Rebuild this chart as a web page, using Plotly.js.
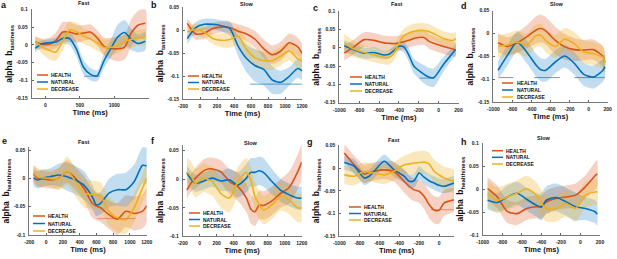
<!DOCTYPE html>
<html><head><meta charset="utf-8">
<script src="https://cdn.plot.ly/plotly-3.0.1.min.js"></script>
<style>html,body{margin:0;padding:0;background:#fff}#chart{width:617px;height:259px}</style>
</head><body><div id="chart"></div>
<script>
// ---------- series ----------
const seriesNames = ['HEALTH','NATURAL','DECREASE'];

// panel a (Fast, tastiness)
const a_x   = [-150,-50,50,150,250,350,450,550,650,750,850,950,1050,1150,1250,1350,1450];
const a_H   = [0.009,0.002,0.002,0.012,0.036,0.036,0.031,0.033,0.036,0.02,-0.004,-0.01,-0.011,-0.006,0.035,0.056,0.061];
const a_Hse = [0.015,0.015,0.018,0.022,0.028,0.028,0.025,0.022,0.022,0.022,0.025,0.03,0.035,0.035,0.038,0.04,0.04];
const a_N   = [-0.01,0.003,0.006,0.008,0.018,0.018,-0.012,-0.062,-0.082,-0.087,-0.045,-0.01,0.022,0.035,0.015,0.004,0.01];
const a_Nse = [0.01,0.01,0.01,0.012,0.015,0.018,0.02,0.02,0.018,0.015,0.02,0.025,0.035,0.035,0.03,0.025,0.025];
const a_D   = [0.009,-0.005,-0.015,-0.02,0.01,0.042,0.037,0.025,0.017,0.006,-0.007,-0.007,-0.002,0.01,0.016,0.02,0.021];
const a_Dse = [0.015,0.02,0.025,0.025,0.025,0.025,0.025,0.022,0.022,0.022,0.022,0.022,0.022,0.022,0.022,0.022,0.022];
const a_sig = [{series:'NATURAL', from:560, to:790, level:-0.088}];

// panel b (Slow, tastiness)
const b_x   = [-150,-50,50,150,250,350,450,550,650,750,850,950,1050,1150,1200];
const b_H   = [0.015,-0.008,-0.006,0.004,0.007,0.006,-0.002,-0.008,-0.02,-0.04,-0.053,-0.045,-0.027,-0.036,-0.05];
const b_Hse = [0.012,0.012,0.012,0.012,0.012,0.012,0.015,0.015,0.018,0.02,0.02,0.02,0.02,0.02,0.02];
const b_N   = [-0.018,0.006,0.013,0.013,0.01,0.004,-0.035,-0.062,-0.077,-0.085,-0.108,-0.113,-0.1,-0.083,-0.088];
const b_Nse = [0.012,0.012,0.012,0.012,0.012,0.015,0.022,0.03,0.035,0.035,0.03,0.025,0.02,0.02,0.02];
const b_D   = [-0.003,0.002,-0.004,-0.018,-0.022,-0.02,-0.013,-0.042,-0.06,-0.066,-0.066,-0.056,-0.045,-0.062,-0.067];
const b_Dse = [0.012,0.012,0.012,0.012,0.015,0.018,0.02,0.02,0.02,0.02,0.02,0.02,0.02,0.02,0.02];
const b_sig = [{series:'NATURAL', from:590, to:1200, level:-0.117}];

// panel c (Fast, tastiness, response-locked)
const c_x   = [-950,-850,-750,-650,-550,-500,-450,-400,-350,-300,-250,-150,-100,-50,50,150,170];
const c_H   = [-0.015,0.003,0.022,0.02,0.013,0.012,0.011,0.013,0.016,0.02,0.025,0.028,0.018,0.012,0.003,-0.004,-0.006];
const c_Hse = [0.02,0.02,0.02,0.02,0.02,0.02,0.02,0.02,0.02,0.02,0.02,0.02,0.02,0.02,0.02,0.02,0.02];
const c_N   = [0.005,-0.006,-0.015,-0.013,-0.02,-0.018,-0.008,0.004,0.002,-0.02,-0.05,-0.072,-0.08,-0.082,-0.045,-0.012,-0.005];
const c_Nse = [0.015,0.015,0.015,0.015,0.012,0.012,0.012,0.012,0.015,0.018,0.02,0.025,0.025,0.025,0.02,0.015,0.015];
const c_D   = [0.012,-0.004,-0.013,-0.02,-0.026,-0.026,-0.015,0.012,0.032,0.04,0.045,0.047,0.044,0.038,0.025,0.02,0.025];
const c_Dse = [0.025,0.022,0.02,0.02,0.02,0.02,0.02,0.02,0.02,0.02,0.02,0.02,0.02,0.02,0.02,0.02,0.02];
const c_sig = [{series:'NATURAL', from:-190, to:-57, level:-0.083}];

// panel d (Slow, tastiness, response-locked)
const d_x   = [-950,-850,-750,-650,-550,-500,-450,-350,-250,-150,-50,50,150,170];
const d_H   = [-0.02,-0.028,-0.02,-0.007,0.008,0.011,0.006,-0.015,-0.029,-0.035,-0.036,-0.035,-0.05,-0.063];
const d_Hse = [0.02,0.02,0.022,0.025,0.03,0.03,0.03,0.03,0.028,0.025,0.022,0.022,0.022,0.022];
const d_N   = [-0.08,-0.047,-0.018,-0.04,-0.069,-0.079,-0.08,-0.062,-0.049,-0.065,-0.089,-0.095,-0.08,-0.072];
const d_Nse = [0.02,0.022,0.022,0.025,0.025,0.025,0.025,0.025,0.025,0.025,0.025,0.025,0.025,0.025];
const d_D   = [-0.028,-0.025,-0.018,-0.025,-0.004,-0.004,-0.015,-0.028,-0.012,-0.022,-0.04,-0.044,-0.052,-0.064];
const d_Dse = [0.025,0.025,0.025,0.025,0.025,0.025,0.025,0.025,0.025,0.025,0.025,0.025,0.025,0.025];
const d_sig = [{series:'NATURAL', from:-937, to:-790, level:-0.096},
               {series:'NATURAL', from:-573, to:-301, level:-0.096},
               {series:'NATURAL', from:-150, to:170, level:-0.096}];

// panel e (Fast, healthiness)
const e_x   = [-150,-100,-50,50,150,250,350,450,550,600,650,750,850,950,1050,1150,1200];
const e_H   = [0.008,0.0,-0.001,-0.003,0.0,0.012,0.0,-0.017,-0.044,-0.049,-0.052,-0.064,-0.072,-0.058,-0.062,-0.058,-0.048];
const e_Hse = [0.015,0.015,0.015,0.015,0.018,0.02,0.02,0.022,0.025,0.025,0.025,0.025,0.028,0.028,0.03,0.03,0.03];
const e_N   = [0.001,-0.003,0.0,0.003,0.006,0.003,-0.003,-0.012,-0.032,-0.047,-0.044,-0.026,-0.02,-0.02,-0.006,0.023,0.022];
const e_Nse = [0.015,0.015,0.015,0.015,0.02,0.025,0.025,0.025,0.022,0.02,0.02,0.025,0.028,0.03,0.03,0.032,0.032];
const e_D   = [0.009,0.003,0.001,0.0,-0.001,0.013,-0.006,-0.026,-0.029,-0.03,-0.032,-0.058,-0.07,-0.073,-0.052,-0.017,0.0];
const e_Dse = [0.015,0.015,0.015,0.015,0.02,0.025,0.025,0.025,0.025,0.025,0.025,0.025,0.025,0.025,0.025,0.025,0.025];
const e_sig = [{series:'HEALTH', from:610, to:1063, level:-0.071}];

// panel f (Slow, healthiness)
const f_x   = [-150,-100,-50,50,100,150,250,350,450,550,600,650,700,750,850,950,1050,1150,1200];
const f_H   = [-0.019,-0.006,0.002,0.015,0.018,0.018,0.013,-0.004,-0.013,-0.033,-0.052,-0.057,-0.045,-0.046,-0.038,-0.025,-0.015,0.012,0.03];
const f_Hse = [0.015,0.015,0.018,0.02,0.02,0.02,0.02,0.022,0.025,0.025,0.025,0.025,0.025,0.025,0.025,0.025,0.028,0.03,0.03];
const f_N   = [0.011,0.0,-0.007,-0.003,0.0,0.002,-0.003,-0.001,-0.01,0.002,0.012,0.012,0.015,0.012,-0.004,-0.019,-0.027,-0.033,-0.033];
const f_Nse = [0.012,0.015,0.015,0.015,0.015,0.015,0.018,0.02,0.022,0.025,0.025,0.025,0.025,0.025,0.022,0.02,0.02,0.02,0.02];
const f_D   = [0.013,0.005,-0.007,0.003,-0.001,-0.004,-0.025,-0.033,-0.004,0.012,-0.001,-0.03,-0.045,-0.054,-0.045,-0.03,-0.036,-0.05,-0.05];
const f_Dse = [0.025,0.025,0.025,0.025,0.025,0.025,0.025,0.025,0.025,0.025,0.025,0.025,0.025,0.025,0.025,0.025,0.025,0.025,0.025];
const f_sig = [];

// panel g (Fast, healthiness, response-locked)
const g_x   = [-950,-850,-750,-700,-650,-550,-450,-350,-300,-250,-200,-150,-100,-50,0,50,150];
const g_H   = [0.033,0.007,-0.013,-0.01,-0.007,-0.004,-0.008,-0.029,-0.04,-0.048,-0.051,-0.062,-0.08,-0.092,-0.093,-0.077,-0.07];
const g_Hse = [0.02,0.02,0.02,0.02,0.02,0.02,0.022,0.025,0.025,0.025,0.025,0.028,0.03,0.03,0.03,0.028,0.025];
const g_N   = [0.012,0.004,-0.022,-0.018,-0.007,0.015,-0.004,-0.018,-0.029,-0.028,-0.011,-0.02,-0.028,-0.033,-0.038,-0.04,-0.033];
const g_Nse = [0.015,0.015,0.015,0.015,0.015,0.015,0.015,0.015,0.015,0.015,0.015,0.015,0.015,0.015,0.015,0.015,0.015];
const g_D   = [-0.015,-0.018,-0.007,-0.009,-0.011,-0.015,-0.007,0.007,0.009,0.011,0.012,0.013,0.009,-0.007,-0.015,-0.022,-0.029];
const g_Dse = [0.02,0.02,0.02,0.02,0.02,0.02,0.02,0.02,0.022,0.025,0.025,0.025,0.025,0.025,0.025,0.025,0.025];
const g_sig = [{series:'HEALTH', from:-80, to:150, level:-0.0915}];

// panel h (Slow, healthiness, response-locked)
const h_x   = [-950,-850,-750,-650,-550,-450,-400,-350,-250,-150,-50,50,150,170];
const h_H   = [0.001,-0.017,-0.048,-0.053,-0.042,-0.038,-0.039,-0.028,-0.02,-0.017,-0.013,0.005,0.029,0.033];
const h_Hse = [0.025,0.025,0.025,0.025,0.025,0.025,0.025,0.025,0.025,0.025,0.025,0.025,0.03,0.03];
const h_N   = [-0.024,-0.029,-0.017,-0.009,-0.022,-0.035,-0.038,-0.024,-0.018,-0.027,-0.038,-0.042,-0.049,-0.054];
const h_Nse = [0.02,0.02,0.025,0.025,0.025,0.025,0.03,0.03,0.03,0.03,0.03,0.025,0.025,0.025];
const h_D   = [-0.009,-0.024,-0.017,-0.009,0.001,-0.013,-0.03,-0.042,-0.042,-0.031,-0.042,-0.013,-0.006,-0.006];
const h_Dse = [0.028,0.028,0.028,0.028,0.028,0.028,0.028,0.028,0.028,0.028,0.028,0.028,0.028,0.028];
const h_sig = [];

// ---------- tick labels ----------
const xtA = [0,500,1000];                 const xlA = ['0','500','1000'];
const xtS = [-200,0,200,400,600,800,1000,1200]; const xlS = ['-200','0','200','400','600','800','1000','1200'];
const xtR = [-1000,-800,-600,-400,-200,0,200];  const xlR = ['-1000','-800','-600','-400','-200','0','200'];
const xtG = [-1000,-800,-600,-400,-200,0];      const xlG = ['-1000','-800','-600','-400','-200','0'];
const ytA = [-0.15,-0.1,-0.05,0,0.05,0.1];  const ylA = ['-0.15','-0.1','-0.05','0','0.05','0.1'];
const ytB = [-0.15,-0.1,-0.05,0,0.05];      const ylB = ['-0.15','-0.1','-0.05','0','0.05'];
const ytE = [-0.1,-0.05,0,0.05];            const ylE = ['-0.1','-0.05','0','0.05'];
const ytH = [-0.1,-0.05,0,0.05,0.1];        const ylH = ['-0.1','-0.05','0','0.05','0.1'];
const panelLetters = ['a','b','c','d','e','f','g','h'];
const panelTitles  = ['Fast','Slow','Fast','Slow','Fast','Slow','Fast','Slow'];
const yVars = ['tastiness','tastiness','tastiness','tastiness','healthiness','healthiness','healthiness','healthiness'];

// ---------- styling / layout (pixels) ----------
const W = 617, HGT = 259;
const FONT = 'Liberation Sans, Arial, sans-serif';
const lineColors = {HEALTH:'#D95319', NATURAL:'#0072BD', DECREASE:'#EDB120'};
const bandColors = {HEALTH:'rgba(217,83,25,0.26)', NATURAL:'rgba(0,114,189,0.24)', DECREASE:'rgba(237,177,32,0.3)'};
const sigColors  = {HEALTH:'rgba(217,83,25,0.5)', NATURAL:'rgba(0,114,189,0.65)', DECREASE:'rgba(237,177,32,0.6)'};

const panels = [
 {x:a_x, s:[[a_H,a_Hse],[a_N,a_Nse],[a_D,a_Dse]], sig:a_sig, box:[31.7,148.7,9.3,98.3],  xr:[-200,1500], yr:[-0.15,0.1],  xt:xtA, xl:xlA, yt:ytA, yl:ylA, tpos:[83.7,3.5], lpos:[3.5,5.5],   leg:{rows:[75,82,89],    l0:37, l1:48, tx:49}},
 {x:b_x, s:[[b_H,b_Hse],[b_N,b_Nse],[b_D,b_Dse]], sig:b_sig, box:[183,302,7.3,99.3],     xr:[-200,1200], yr:[-0.15,0.05], xt:xtS, xl:xlS, yt:ytB, yl:ylB, tpos:[246.7,3.8], lpos:[153.5,5.5], leg:{rows:[76,82.5,89], l0:188, l1:199, tx:200}},
 {x:c_x, s:[[c_H,c_Hse],[c_N,c_Nse],[c_D,c_Dse]], sig:c_sig, box:[339.3,458.5,11,102.7], xr:[-1000,200], yr:[-0.15,0.1],  xt:xtR, xl:xlR, yt:ytA, yl:ylA, tpos:[396,4], lpos:[315,7.5],   leg:{rows:[77,84,91],    l0:350, l1:362, tx:363}},
 {x:d_x, s:[[d_H,d_Hse],[d_N,d_Nse],[d_D,d_Dse]], sig:d_sig, box:[493.3,607.7,10.7,102.3],xr:[-1000,200], yr:[-0.15,0.05], xt:xtR, xl:xlR, yt:ytB, yl:ylB, tpos:[557,4], lpos:[464,6.5],     leg:{rows:[83,90,97],    l0:502, l1:513, tx:515}},
 {x:e_x, s:[[e_H,e_Hse],[e_N,e_Nse],[e_D,e_Dse]], sig:e_sig, box:[29.3,146.7,147.2,235],  xr:[-200,1200], yr:[-0.1,0.055], xt:xtS, xl:xlS, yt:ytE, yl:ylE, tpos:[83.7,142], lpos:[4,140.7], leg:{rows:[216,223.5,231], l0:33, l1:45, tx:46}},
 {x:f_x, s:[[f_H,f_Hse],[f_N,f_Nse],[f_D,f_Dse]], sig:f_sig, box:[182.7,301.7,145,236.3], xr:[-200,1200], yr:[-0.1,0.06],  xt:xtS, xl:xlS, yt:ytE, yl:ylE, tpos:[251,143], lpos:[152.7,140.7], leg:{rows:[213,219.5,226], l0:189, l1:200, tx:201}},
 {x:g_x, s:[[g_H,g_Hse],[g_N,g_Nse],[g_D,g_Dse]], sig:g_sig, box:[339.3,454,145.3,236.3], xr:[-1000,150], yr:[-0.15,0.05], xt:xtG, xl:xlG, yt:ytB, yl:ylB, tpos:[393,139.7], lpos:[310,142], leg:{rows:[207,213.5,220], l0:349, l1:361, tx:362}},
 {x:h_x, s:[[h_H,h_Hse],[h_N,h_Nse],[h_D,h_Dse]], sig:h_sig, box:[482.7,600,143,235.3],   xr:[-1000,200], yr:[-0.1,0.1],   xt:xtR, xl:xlR, yt:ytH, yl:ylH, tpos:[544,138], lpos:[464,142],   leg:{rows:[150.7,157.3,164], l0:492, l1:503, tx:504}}
];

const px = v => v / W, py = v => 1 - v / HGT;
const traces = [];
const layout = {
  width: W, height: HGT, margin:{l:0,r:0,t:0,b:0},
  paper_bgcolor:'#fff', plot_bgcolor:'rgba(0,0,0,0)', showlegend:false,
  font:{family:FONT, size:5, color:'#222'},
  annotations:[], shapes:[]
};

panels.forEach((p, i) => {
  const k = i === 0 ? '' : String(i + 1);
  const xa = 'x' + k, ya = 'y' + k;
  p.s.forEach((s, j) => {
    const nm = seriesNames[j];
    const hi = s[0].map((v, t) => v + s[1][t]);
    const lo = s[0].map((v, t) => v - s[1][t]);
    traces.push({type:'scatter', mode:'lines', xaxis:xa, yaxis:ya,
      x: p.x.concat(p.x.slice().reverse()), y: hi.concat(lo.slice().reverse()),
      fill:'toself', fillcolor:bandColors[nm], line:{width:0, shape:'spline', smoothing:0.7},
      hoverinfo:'skip', name:nm + ' SE'});
  });
  p.s.forEach((s, j) => {
    const nm = seriesNames[j];
    traces.push({type:'scatter', mode:'lines', xaxis:xa, yaxis:ya, x:p.x, y:s[0], name:nm,
      line:{color:lineColors[nm], width:1.6, shape:'spline', smoothing:0.7}});
  });
  p.sig.forEach(sg => {
    traces.push({type:'scatter', mode:'lines', xaxis:xa, yaxis:ya, x:[sg.from, sg.to], y:[sg.level, sg.level],
      line:{color:sigColors[sg.series], width:1}, hoverinfo:'skip', name:sg.series + ' sig'});
  });
  layout['xaxis' + k] = {
    domain:[px(p.box[0]), px(p.box[1])], range:p.xr, anchor:ya,
    tickvals:p.xt, ticktext:p.xl, ticks:'inside', ticklen:2, tickcolor:'#666',
    showgrid:false, zeroline:false, showline:true, linecolor:'#777', linewidth:1,
    tickfont:{size:5, weight:'bold', color:'#222'}, ticklabelstandoff:2,
    title:{text:'Time (ms)', font:{size:7.5, weight:'bold', color:'#111'}, standoff:2}
  };
  layout['yaxis' + k] = {
    domain:[py(p.box[3]), py(p.box[2])], range:p.yr, anchor:xa,
    tickvals:p.yt, ticktext:p.yl, ticks:'inside', ticklen:2, tickcolor:'#666',
    showgrid:false, zeroline:false, showline:true, linecolor:'#777', linewidth:1,
    tickfont:{size:5, weight:'bold', color:'#222'}, ticklabelstandoff:2,
    title:{text:'alpha  b<sub>' + yVars[i] + '</sub>', font:{size:8.5, weight:'bold', color:'#111'}, standoff:2}
  };
  layout.annotations.push({xref:'paper', yref:'paper', x:px(p.tpos[0]), y:py(p.tpos[1]), text:panelTitles[i],
    showarrow:false, xanchor:'center', yanchor:'middle', font:{size:5.5, weight:'bold', color:'#111'}});
  layout.annotations.push({xref:'paper', yref:'paper', x:px(p.lpos[0]), y:py(p.lpos[1]), text:panelLetters[i],
    showarrow:false, xanchor:'center', yanchor:'middle', font:{size:9, weight:'bold', color:'#111'}});
  seriesNames.forEach((nm, j) => {
    const r = p.leg.rows[j];
    layout.shapes.push({type:'line', xref:'paper', yref:'paper', x0:px(p.leg.l0), x1:px(p.leg.l1), y0:py(r), y1:py(r),
      line:{color:lineColors[nm], width:1.5}});
    layout.annotations.push({xref:'paper', yref:'paper', x:px(p.leg.tx), y:py(r), text:nm, showarrow:false,
      xanchor:'left', yanchor:'middle', font:{size:5, weight:'bold', color:'#111'}});
  });
});

Plotly.newPlot('chart', traces, layout, {displayModeBar:false, staticPlot:true});
</script>
</body></html>
